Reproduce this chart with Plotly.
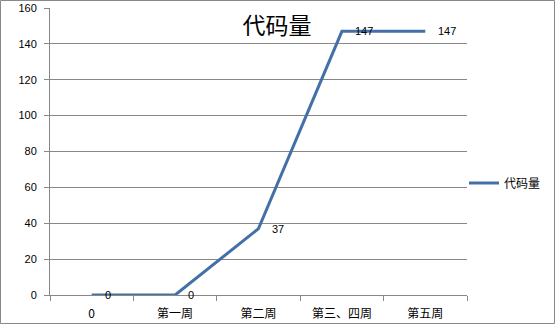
import plotly.graph_objects as go

categories = ["0", "第一周", "第二周", "第三、四周", "第五周"]
values = [0, 0, 37, 147, 147]
series_name = "代码量"
title_text = "代码量"

W, H = 555, 324
L, R, T, B = 50, 88, 8, 29
pw, ph = W - L - R, H - T - B

fig = go.Figure()
fig.add_trace(go.Scatter(
    x=categories, y=values, name=series_name,
    mode="lines",
    line=dict(color="#4470a8", width=3),
    cliponaxis=False,
))

annotations = [
    dict(x=c, y=v, xref="x", yref="y", text=str(v), showarrow=False,
         xanchor="left", yanchor="middle", xshift=11,
         font=dict(family="Liberation Sans, Arial", size=11, color="#000000"))
    for c, v in zip(categories, values)
]

def px_x(p):
    return (p - L) / pw

def px_y(p):
    return (H - B - p) / ph

fig.update_layout(
    width=W, height=H,
    margin=dict(l=L, r=R, t=T, b=B),
    paper_bgcolor="white", plot_bgcolor="white",
    font=dict(family="Liberation Sans, Arial", size=11, color="#000000"),
    title=dict(text=title_text, x=277 / W, xref="container", xanchor="center",
               y=1 - 26 / H, yref="container", yanchor="middle",
               font=dict(family="Noto Sans CJK SC", size=23, color="#000000")),
    showlegend=True,
    legend=dict(x=px_x(464), y=px_y(183), xanchor="left", yanchor="middle",
                font=dict(family="Noto Sans CJK SC", size=12, color="#000000"),
                itemwidth=30, bgcolor="rgba(0,0,0,0)", borderwidth=0),
    xaxis=dict(type="category", range=[-0.5, 4.5], showgrid=False,
               showline=True, linecolor="#888888", linewidth=1,
               ticks="outside", tickson="boundaries", ticklen=5, tickcolor="#888888",
               ticklabelstandoff=8, automargin=False,
               tickfont=dict(family="Noto Sans CJK SC", size=12, color="#000000"),
               zeroline=False, fixedrange=True),
    yaxis=dict(range=[0, 160], dtick=20, tick0=0, showgrid=True, gridcolor="#888888",
               gridwidth=1, showline=True, linecolor="#888888", linewidth=1,
               ticks="outside", ticklen=5, tickcolor="#888888",
               ticklabelstandoff=5, automargin=False,
               tickfont=dict(family="Liberation Sans, Arial", size=11, color="#000000"),
               zeroline=False, fixedrange=True),
    annotations=annotations,
    shapes=[dict(type="rect", xref="paper", yref="paper",
                 x0=px_x(0.5), x1=px_x(554.5), y0=px_y(323.5), y1=px_y(0.5),
                 line=dict(color="#888888", width=1), layer="below")],
)

fig.write_html("out.html")
